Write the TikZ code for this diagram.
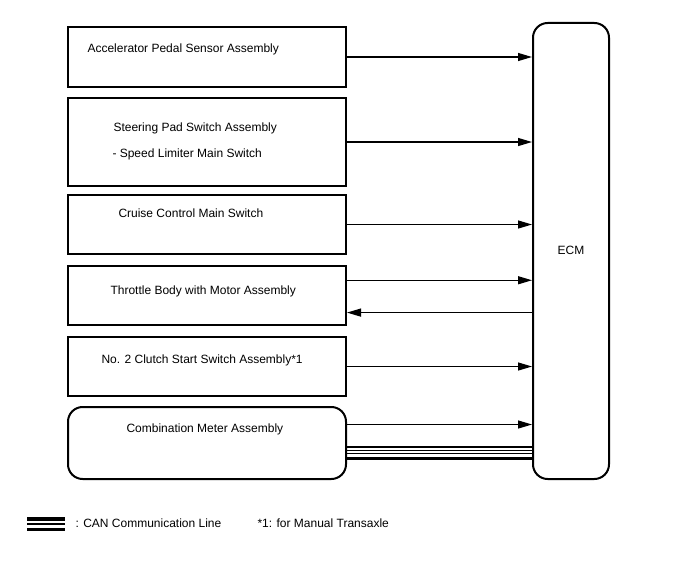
\documentclass[tikz,border=0pt]{standalone}
\usepackage{fontspec}
\setmainfont{Liberation Sans}
\usetikzlibrary{arrows.meta,calc}

\tikzset{every picture/.style={line width=0.75pt}}
\tikzset{
  unit/.style={draw,line width=1.5pt,inner sep=0pt,minimum width=208.5pt},
  lbl/.style={anchor=base west,inner sep=0pt,font=\fontsize{9}{11}\selectfont},
  sig/.style={line width=0.9pt,-{Triangle[length=10.5pt,width=6pt]}},
  canline/.style={line width=1.8pt},
  canthin/.style={line width=0.8pt}
}

\begin{document}
\begin{tikzpicture}[x=0.75pt,y=0.75pt,yscale=-1,xscale=1]
	\useasboundingbox (0,0) rectangle (688,560);

	%Shape: Rectangle [acc]
	\node[unit,minimum height=45pt] (acc) at (207,57) {};
	%Shape: Rectangle [str]
	\node[unit,minimum height=66pt] (str) at (207,142) {};
	%Shape: Rectangle [ccs]
	\node[unit,minimum height=44.25pt] (ccs) at (207,224.5) {};
	%Shape: Rectangle [thr]
	\node[unit,minimum height=44.25pt] (thr) at (207,295.5) {};
	%Shape: Rectangle [cls]
	\node[unit,minimum height=44.25pt] (cls) at (207,366.5) {};
	%Shape: Rounded Rect [met]
	\node[unit,minimum height=54pt,rounded corners=11pt] (met) at (207,443) {};
	%Shape: Rounded Rect [ecm]
	\node[unit,minimum width=57pt,minimum height=342pt,rounded corners=11pt] (ecm) at (571,251) {};

	% Text Node
	\node[lbl] (accT) at (87,53) {Accelerator Pedal Sensor Assembly};
	% Text Node
	\node[lbl] (strT) at (113,131) {Steering Pad Switch Assembly};
	% Text Node
	\node[lbl] (strS) at (112,157) {- Speed Limiter Main Switch};
	% Text Node
	\node[lbl] (ccsT) at (118,217) {Cruise Control Main Switch};
	% Text Node
	\node[lbl] (thrT) at (110,294) {Throttle Body with Motor Assembly};
	% Text Node
	\node[lbl] (clsT) at (101,363.5) {No. 2 Clutch Start Switch Assembly*1};
	% Text Node
	\node[lbl] (metT) at (126,432) {Combination Meter Assembly};
	% Text Node
	\node[inner sep=0pt,font=\fontsize{9}{11}\selectfont] (ecmT) at ($(ecm.center)+(0,-1)$) {ECM};

	%Straight Lines
	\draw[sig] (acc.east) -- (acc.east -| ecm.west);
	\draw[sig] (str.east) -- (str.east -| ecm.west);
	\draw[sig] (ccs.east) -- (ccs.east -| ecm.west);
	\coordinate (thrA) at ($(thr.north east)!0.25!(thr.south east)$);
	\coordinate (thrB) at ($(thr.north east)!0.78!(thr.south east)$);
	\draw[sig] (thrA) -- (thrA -| ecm.west);
	\draw[sig] (thrB -| ecm.west) -- (thrB);
	\draw[sig] (cls.east) -- (cls.east -| ecm.west);
	\coordinate (metA) at ($(met.north east)!0.25!(met.south east)$);
	\draw[sig] (metA) -- (metA -| ecm.west);

	%CAN bus
	\foreach \f/\s in {0.55/canline,0.605/canthin,0.645/canthin,0.71/canline}{
		\coordinate (canL) at ($(met.north east)!\f!(met.south east)$);
		\draw[\s] (canL) -- (canL -| ecm.west);
	}

	%Legend
	\draw[line width=2.5pt] (27,519) -- (65,519);
	\draw[canthin] (27,524) -- (65,524);
	\draw[line width=2.5pt] (27,529.5) -- (65,529.5);
	% Text Node
	\node[lbl] (canT) at (75,527) {: CAN Communication Line};
	% Text Node
	\node[lbl] (noteT) at (257,527) {*1: for Manual Transaxle};

\end{tikzpicture}
\end{document}
